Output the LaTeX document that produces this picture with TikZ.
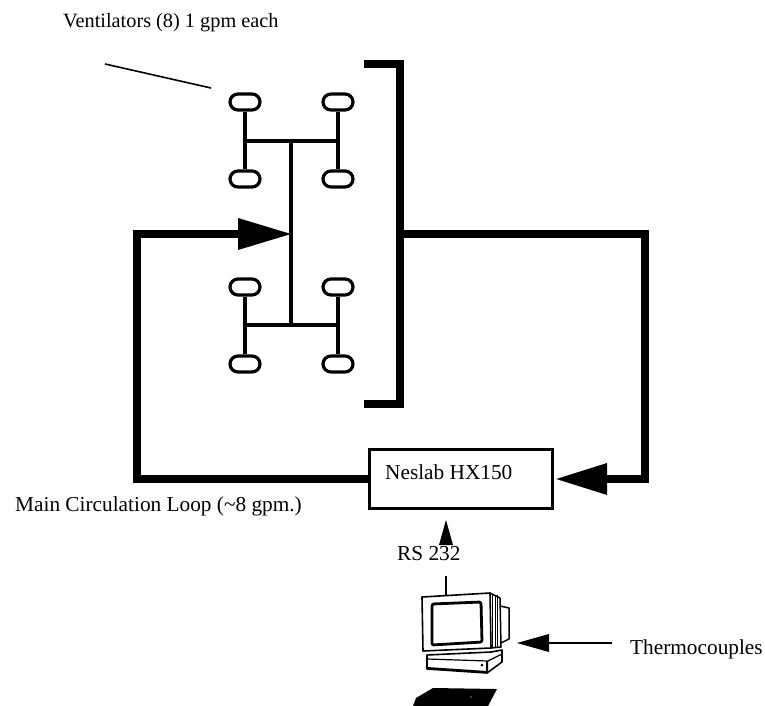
\documentclass[tikz,border=0pt]{standalone}
\usepackage{fontspec}
\setmainfont{Liberation Serif}
\usetikzlibrary{shapes.misc}
\tikzset{
  x=1pt,y=-1pt,
  thickline/.style={line width=8pt,line cap=butt,miter limit=10},
  pipe/.style={line width=3.2pt},
  vent/.style={draw,line width=3.2pt,rounded rectangle,minimum width=30pt,minimum height=16pt,inner sep=0pt,fill=white},
  label/.style={inner sep=0pt,anchor=base west,font=\fontsize{21.3}{24}\selectfont},
  headfill/.style={fill=black,draw=none}
}
\begin{document}
\begin{tikzpicture}
\useasboundingbox[fill=white] (0,0) rectangle (765,706);
% text
\node[label,font=\fontsize{20.3}{24}\selectfont] (tvent) at (63,28) {Ventilators (8) 1 gpm each};
\node[label] (tmain) at (15,511) {Main Circulation Loop (\textasciitilde8 gpm.)};
\node[label] (trs) at (397,560) {RS 232};
\node[label] (tthermo) at (630,654) {Thermocouples};
% pointer
\coordinate (p1) at (105,64);
\coordinate (p2) at (211,88);
\draw[line width=1.6pt] (p1) -- (p2);
% junctions
\coordinate (hl1) at (245,141); \coordinate (hr1) at (338,141); \coordinate (tr1) at (291,141);
\coordinate (hl2) at (245,325); \coordinate (hr2) at (338,325); \coordinate (tr2) at (291,325);
\coordinate (tip) at (291,234);
% ventilators
\node[vent] (v1) at (245,102) {}; \node[vent] (v2) at (338,102) {};
\node[vent] (v3) at (245,179) {}; \node[vent] (v4) at (338,179) {};
\node[vent] (v5) at (245,287) {}; \node[vent] (v6) at (338,287) {};
\node[vent] (v7) at (245,364) {}; \node[vent] (v8) at (338,364) {};
\draw[pipe] (v1) -- (v3); \draw[pipe] (v2) -- (v4);
\draw[pipe] (v5) -- (v7); \draw[pipe] (v6) -- (v8);
\draw[pipe] (hl1) -- (hr1); \draw[pipe] (hl2) -- (hr2);
\draw[pipe] (tr1) -- (tr2);
% exchanger box
\node[draw,line width=3.5pt,minimum width=183pt,minimum height=59pt,inner sep=0pt] (box) at (461,479) {};
\node[label] (tnes) at (385,479) {Neslab HX150};
% manifold bracket
\coordinate (b1) at (364,64); \coordinate (b2) at (400,64); \coordinate (b3) at (400,404); \coordinate (b4) at (364,404);
\draw[thickline] (b1) -- (b2) -- (b3) -- (b4);
% main loop
\coordinate (a1) at (238,234); \coordinate (c1) at (137,234); \coordinate (c2) at (137,479);
\draw[thickline] (a1) -- (c1) -- (c2) -- (box.west);
\fill[headfill] (tip) -- (238,218) -- (238,250) -- cycle;
\coordinate (d0) at (400,234); \coordinate (d1) at (645,234); \coordinate (d2) at (645,479); \coordinate (a2) at (607,479);
\draw[thickline] (d0) -- (d1) -- (d2) -- (a2);
\fill[headfill] (box.east) ++(2,0) -- (607,463) -- (607,495) -- cycle;
% RS232 arrow
\coordinate (rtip) at (446,520); \coordinate (rbot) at (446,545);
\fill[headfill] (rtip) -- (439,545) -- (453,545) -- cycle;
% computer
\coordinate (mtop) at (446,576); \coordinate (mscr) at (446,600);
\draw[line width=1.8pt] (mtop) -- (mscr);
\draw[line width=1.5pt,line join=round] (500,606) -- (509,608) -- (509,639) -- (501,643);
\draw[line width=1.5pt,line join=round] (490,593) -- (500,598) -- (501,647) -- (491,648);
\foreach \x in {492.5,495,497.5} \draw[line width=.8pt] (\x,595) -- (\x,648);
\draw[line width=1.6pt,line join=round,fill=white] (422,597) -- (490,593) -- (491,648) -- (423,651) -- cycle;
\draw[line width=2.8pt,rounded corners=2pt] (432,604) -- (481,602) -- (482,642) -- (432,645) -- cycle;
\draw[line width=1.6pt,line join=round] (427,655) -- (491,652) -- (502,650) -- (502,662) -- (487,673) -- (427,669) -- cycle;
\draw[line width=1.2pt] (427,659) -- (488,661) -- (502,654);
\draw[line width=2pt] (427,668) -- (487,672) -- (487,661);
\fill (482,665) circle (1.5);
\fill (413,706) -- (416,698) -- (433,688) -- (497,689) -- (488,706) -- cycle;
\fill[white] (471,697) circle (.6);
% thermocouple arrow
\coordinate (ttip) at (517,643); \coordinate (tbase) at (549,643); \coordinate (tend) at (612,643);
\draw[line width=1.8pt] (tbase) -- (tend);
\fill[headfill] (ttip) -- (549,634) -- (549,652) -- cycle;
\end{tikzpicture}
\end{document}
